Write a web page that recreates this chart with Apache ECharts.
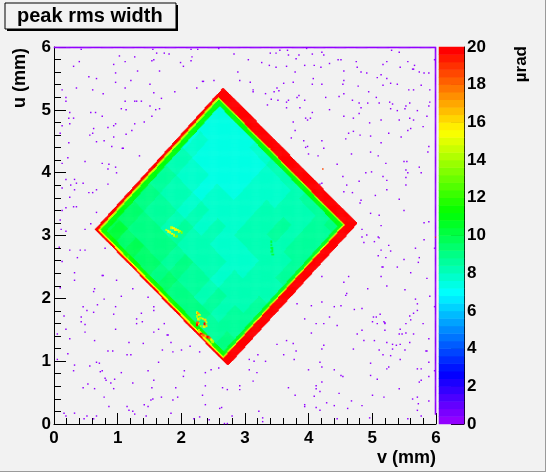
<!DOCTYPE html>
<html>
<head>
<meta charset="utf-8">
<script src="https://cdn.jsdelivr.net/npm/echarts@6/dist/echarts.min.js"></script>
<style>
  html, body { margin: 0; padding: 0; background: #f2f2f2; }
  #chart { width: 546px; height: 472px; }
</style>
</head>
<body>
<div id="chart"></div>
<script>
// histogram binning (mm)
const binWidth = 0.015;
const nBins = 400;

// outer corners of the crystal footprint, [v, u] in mm
const diamondTop = [2.66, 5.35];
const diamondRight = [4.76, 3.19];
const diamondBottom = [2.73, 0.93];
const diamondLeft = [0.65, 3.10];

// edge bands, [thickness mm, level µrad] from the edge inwards
const bandsUpperRight = [[0.15, 19.8], [0.02, 14.2], [0.07, 10.8]];
const bandsLowerRight = [[0.13, 19.8], [0.02, 15.0], [0.05, 10.4]];
const bandsLowerLeft = [[0.03, 19.8], [0.025, 15.4], [0.06, 11.4]];
const bandsUpperLeft = [[0.04, 19.8], [0.03, 14.6], [0.08, 11.0]];

// interior levels, rows from the lower-right edge to the upper-left edge,
// columns from the lower-left edge to the upper-right edge
const interiorLevels = [
  [9.2, 8.9, 8.7, 8.6, 8.8, 9.0, 9.0, 9.2],
  [8.9, 8.6, 8.4, 8.3, 8.5, 8.7, 8.7, 9.0],
  [8.6, 8.4, 8.2, 8.1, 8.3, 8.5, 8.4, 8.7],
  [8.7, 8.2, 8.0, 8.0, 8.1, 8.3, 8.2, 8.5],
  [8.9, 8.4, 8.1, 7.9, 8.2, 8.4, 8.2, 8.5],
  [8.8, 8.2, 7.9, 7.8, 8.0, 8.2, 8.0, 8.3],
  [9.1, 8.6, 8.2, 7.9, 8.0, 8.1, 7.9, 8.2],
  [8.9, 8.4, 8.0, 7.8, 7.8, 7.9, 7.7, 8.0],
  [9.3, 8.8, 8.3, 8.0, 7.9, 7.8, 7.7, 8.0],
  [9.1, 8.6, 8.1, 7.8, 7.7, 7.6, 7.5, 7.8],
  [9.5, 9.0, 8.5, 8.1, 7.8, 7.6, 7.5, 7.7],
  [9.3, 8.8, 8.3, 7.9, 7.6, 7.5, 7.4, 7.5],
  [9.7, 9.2, 8.7, 8.3, 7.9, 7.6, 7.4, 7.4],
  [9.5, 9.0, 8.5, 8.1, 7.7, 7.5, 7.3, 7.3],
  [10.1, 9.6, 9.1, 8.7, 8.2, 7.8, 7.5, 7.3],
  [9.9, 9.4, 8.9, 8.5, 8.0, 7.6, 7.3, 7.2]
];

// local features inside the footprint, [v, u, level]
const hotSpotRadius = 0.022;
const hotSpots = [
  [1.77, 3.09, 15.0], [1.80, 3.07, 15.6], [1.83, 3.05, 15.0], [1.86, 3.03, 15.4], [1.89, 3.01, 14.6], [1.93, 2.99, 13.6],
  [1.85, 3.13, 14.4], [1.88, 3.12, 15.4], [1.91, 3.10, 15.8], [1.94, 3.09, 15.0], [1.97, 3.07, 14.4], [2.01, 3.05, 13.4],
  [2.25, 1.78, 15.0], [2.27, 1.76, 17.0], [2.29, 1.74, 15.0], [2.25, 1.72, 14.0],
  [2.27, 1.67, 15.0], [2.30, 1.69, 14.0], [2.34, 1.68, 15.0], [2.38, 1.66, 16.0], [2.40, 1.62, 15.0], [2.40, 1.57, 16.0],
  [2.36, 1.55, 15.0], [2.31, 1.56, 14.0], [2.27, 1.60, 16.0],
  [2.37, 1.60, 19.8], [2.25, 1.58, 19.8], [2.26, 1.62, 18.0],
  [2.28, 1.49, 14.0], [2.30, 1.46, 16.0], [2.32, 1.44, 19.8], [2.35, 1.42, 18.0], [2.39, 1.40, 17.0], [2.42, 1.39, 19.8],
  [2.45, 1.37, 18.0], [2.48, 1.34, 15.0], [2.50, 1.31, 14.0],
  [3.39, 4.38, 14.0], [1.17, 2.66, 12.0],
  [3.42, 2.90, 10.2], [3.42, 2.85, 10.2], [3.43, 2.80, 10.2], [3.43, 2.75, 10.2], [3.44, 2.70, 10.2]
];

// single stray bins, [v, u, level]
const strayCells = [[5.995, 2.98, 19.8], [4.22, 4.05, 18.5]];

// empty-ish bins around the crystal, [v, u]
const noiseLevel = 0.2;
const rightColumnStart = 0.15;
const noiseDots = [
  [0.43,5.96],[1.03,5.85],[1.11,5.76],[1.27,5.84],[1.55,5.96],[1.57,5.80],[1.53,5.78],[1.61,5.90],[1.73,5.90],[1.80,5.88],
  [2.15,5.96],[2.26,5.96],[2.16,5.84],[2.15,5.78],[2.59,5.97],[2.83,5.89],[0.31,5.69],[0.40,5.76],[0.93,5.72],[0.96,5.59],
  [0.67,5.50],[0.55,5.52],[1.20,5.47],[1.31,5.61],[1.65,5.62],[1.99,5.75],[2.03,5.69],[2.33,5.45],[2.34,5.45],[2.24,5.34],
  [2.51,5.46],[2.89,5.60],[2.92,5.46],[0.13,5.32],[0.35,5.35],[0.96,5.43],[0.61,5.32],[0.77,5.26],[1.11,5.34],[1.51,5.41],
  [1.56,5.27],[1.90,5.28],[0.18,5.19],[0.19,5.14],[1.12,5.13],[1.26,5.14],[1.29,5.14],[1.37,5.13],[1.68,5.18],[1.50,5.06],
  [1.60,5.00],[1.66,5.02],[1.05,5.02],[1.13,5.00],[0.58,4.96],[0.65,4.96],[0.25,4.95],[0.23,4.87],[0.30,4.87],[0.76,4.89],
  [1.53,4.89],[0.13,4.75],[0.25,4.78],[0.84,4.72],[0.94,4.74],[0.96,4.77],[1.22,4.67],[1.27,4.78],[1.41,4.80],[0.56,4.59],
  [0.62,4.70],[0.61,4.62],[0.10,4.63],[1.13,4.61],[0.79,4.51],[0.94,4.57],[0.90,4.42],[1.07,4.38],[1.08,4.38],[0.23,4.48],
  [0.67,4.49],[1.34,4.26],[0.21,4.23],[0.48,4.17],[0.13,4.15],[0.76,4.14],[0.86,4.13],[0.85,4.05],[0.97,4.08],[0.98,3.99],
  [0.19,3.89],[0.32,3.89],[0.35,3.83],[0.46,3.83],[0.85,3.82],[0.26,3.80],[0.32,3.73],[0.54,3.68],[0.60,3.68],[0.67,3.73],
  [0.12,3.75],[0.25,3.60],[0.35,3.45],[0.30,3.45],[0.19,3.44],[0.12,3.39],[0.10,3.25],[0.57,3.19],[0.67,3.36],[0.49,3.09],
  [0.19,3.07],[0.11,3.09],
  [3.05,5.80],[3.40,5.90],[3.48,5.90],[3.55,5.95],[3.66,5.94],[3.68,5.87],[3.80,5.81],[3.85,5.87],[3.97,5.97],[4.06,5.88],
  [4.21,5.92],[4.24,5.87],[4.46,5.80],[4.51,5.79],[4.75,5.76],[4.76,5.67],[4.32,5.73],[4.33,5.73],[3.26,5.75],[3.38,5.71],
  [3.49,5.67],[3.65,5.69],[3.94,5.70],[4.08,5.70],[4.19,5.68],[3.78,5.60],[4.55,5.62],[4.82,5.60],[4.91,5.58],[5.14,5.55],
  [5.07,5.51],[5.22,5.49],[5.16,5.72],[5.23,5.76],[5.30,5.95],[5.42,5.92],[5.44,5.68],[5.55,5.76],[5.63,5.64],[5.64,5.64],
  [5.66,5.71],[5.73,5.60],[5.81,5.58],[5.89,5.59],[5.97,5.79],[3.08,5.44],[3.13,5.32],[3.12,5.28],[3.32,5.25],[3.45,5.28],
  [3.50,5.35],[3.53,5.30],[3.60,5.42],[3.76,5.43],[4.07,5.49],[4.05,5.41],[4.21,5.41],[4.55,5.47],[4.54,5.40],[4.78,5.37],
  [4.94,5.29],[5.16,5.39],[5.29,5.42],[5.39,5.40],[5.57,5.31],[5.64,5.32],[5.76,5.39],[5.90,5.31],[3.35,5.07],[3.41,5.16],
  [3.52,5.15],[3.68,5.15],[3.65,5.12],[3.81,5.20],[3.85,5.22],[3.93,5.15],[4.27,5.19],[4.48,5.21],[4.55,5.26],[4.68,5.15],
  [4.79,5.11],[4.82,5.03],[4.93,5.10],[5.06,5.20],[5.10,5.10],[5.27,5.12],[5.29,5.02],[5.31,5.09],[5.39,4.99],[5.51,5.02],
  [5.53,5.06],[5.59,5.10],[5.71,4.99],[5.88,5.06],[5.90,5.12],[3.65,5.03],[3.86,5.03],[3.95,4.87],[4.03,4.86],[3.98,4.83],
  [4.06,4.96],[4.32,5.00],[4.55,4.89],[4.70,4.86],[4.79,4.94],[4.96,4.79],[5.14,4.83],[5.42,4.83],[5.59,4.87],[5.64,4.84],
  [5.85,4.89],[3.75,4.81],[3.79,4.67],[3.72,4.55],[3.92,4.50],[3.98,4.42],[3.95,4.40],[4.21,4.50],[4.23,4.38],[4.58,4.54],
  [4.62,4.63],[4.70,4.65],[4.80,4.59],[4.97,4.58],[5.13,4.48],[5.26,4.62],[5.45,4.57],[5.55,4.67],[5.60,4.70],[5.80,4.73],
  [5.89,4.41],[5.87,4.33],[4.00,4.30],[4.14,4.27],[4.45,4.13],[4.67,4.29],[4.97,4.33],[5.09,4.27],[5.21,4.14],[5.50,4.18],
  [5.54,4.18],[5.52,4.04],[5.55,3.99],[5.73,4.08],[5.76,3.99],[4.89,3.99],[4.99,4.01],[4.54,3.94],[4.60,3.80],[4.79,3.86],
  [5.16,3.93],[5.23,3.88],[5.52,3.92],[5.53,3.80],[5.05,3.64],[5.22,3.72],[5.42,3.58],[5.50,3.39],[4.20,3.83],[4.18,3.81],
  [4.69,3.68],[4.55,3.69],[4.82,3.56],[4.80,3.51],[4.97,3.35],[5.10,3.32],[5.13,3.15],[4.83,3.10],[4.91,3.01],[5.81,3.20],
  [5.89,3.21],
  [0.08,2.81],[0.25,2.77],[0.41,2.77],[0.49,2.77],[0.80,2.79],[0.36,2.65],[0.13,2.59],[0.32,2.40],[0.32,2.29],[0.76,2.36],
  [0.77,2.36],[0.98,2.29],[0.64,2.15],[0.62,2.10],[0.10,2.17],[1.23,2.15],[1.06,2.03],[1.47,2.01],[0.79,1.99],[0.68,1.90],
  [1.56,1.87],[0.46,1.86],[0.52,1.80],[0.62,1.77],[0.96,1.87],[0.94,1.75],[1.37,1.76],[1.56,1.80],[0.16,1.71],[0.43,1.70],
  [0.42,1.62],[0.49,1.58],[1.29,1.67],[1.30,1.60],[1.39,1.62],[1.73,1.59],[0.96,1.50],[1.57,1.46],[1.64,1.50],[1.78,1.42],
  [1.79,1.42],[0.18,1.50],[0.49,1.46],[0.05,1.43],[0.25,1.36],[0.63,1.33],[1.18,1.30],[1.40,1.28],[1.83,1.30],[1.70,1.18],
  [1.86,1.14],[2.00,1.17],[2.14,1.23],[2.28,1.14],[0.21,1.12],[0.84,1.16],[0.92,1.16],[1.15,1.10],[1.21,1.10],[0.05,1.02],
  [0.67,0.98],[0.71,0.97],[0.32,0.93],[0.56,0.92],[1.64,0.98],[0.31,0.84],[0.72,0.83],[0.76,0.85],[1.05,0.81],[1.47,0.85],
  [2.04,0.84],[2.03,0.75],[2.38,0.82],[2.46,0.86],[2.59,0.89],[0.80,0.73],[0.81,0.69],[0.95,0.71],[0.53,0.63],[0.45,0.58],
  [0.63,0.56],[0.89,0.65],[1.23,0.65],[0.93,0.56],[1.53,0.57],[1.57,0.69],[1.91,0.58],[2.38,0.61],[2.64,0.58],[2.72,0.55],
  [2.92,0.61],[2.92,0.54],[0.79,0.42],[1.52,0.38],[1.55,0.39],[1.69,0.42],[1.86,0.38],[1.94,0.42],[2.33,0.45],[2.37,0.31],
  [1.41,0.31],[1.48,0.28],[0.86,0.28],[1.15,0.28],[1.18,0.22],[1.23,0.20],[2.60,0.25],[2.63,0.26],[0.15,0.17],[0.19,0.13],
  [0.32,0.17],[0.47,0.08],[0.52,0.13],[0.62,0.08],[0.67,0.12],[1.27,0.16],[1.44,0.13],[1.83,0.17],[2.20,0.08],[2.29,0.11],
  [2.43,0.06],[2.80,0.12],[2.67,0.01],[2.72,0.01],
  [4.84,2.98],[5.09,2.98],[5.10,2.96],[4.86,2.88],[5.03,2.90],[5.81,2.93],[5.97,2.79],[5.68,2.80],[5.26,2.84],[5.29,2.75],
  [5.13,2.76],[5.21,2.64],[5.09,2.68],[5.50,2.62],[5.15,2.50],[5.17,2.49],[5.39,2.49],[5.60,2.40],[5.72,2.57],[5.74,2.64],
  [4.20,2.35],[4.55,2.26],[4.63,2.34],[5.14,2.35],[5.22,2.19],[5.86,2.32],[4.59,2.07],[4.58,2.05],[4.92,2.15],[5.51,2.14],
  [5.68,1.98],[5.70,1.91],[5.71,1.80],[5.65,1.76],[5.90,2.03],[5.97,1.87],[3.82,1.91],[4.04,1.88],[4.20,1.94],[4.40,1.87],
  [4.50,1.88],[4.71,1.82],[4.83,1.84],[5.01,1.70],[5.06,1.70],[5.12,1.75],[5.00,1.63],[5.08,1.60],[5.18,1.62],[5.20,1.60],
  [5.19,1.61],[5.60,1.66],[5.59,1.71],[5.52,1.59],[5.80,1.60],[3.94,1.67],[4.12,1.59],[4.24,1.59],[4.32,1.70],[4.45,1.57],
  [4.76,1.43],[4.83,1.49],[4.04,1.45],[5.19,1.49],[5.44,1.50],[5.47,1.43],[5.42,1.43],[5.53,1.44],[5.65,1.43],[3.50,1.27],
  [3.65,1.32],[3.76,1.28],[4.23,1.25],[4.20,1.19],[4.70,1.19],[4.87,1.32],[5.03,1.32],[5.23,1.30],[5.31,1.27],[5.37,1.25],
  [5.43,1.26],[5.31,1.19],[5.58,1.30],[5.89,1.35],[3.20,1.10],[3.07,1.02],[3.14,0.99],[3.32,1.00],[3.61,1.10],[3.80,1.16],
  [3.77,1.02],[4.18,0.98],[4.21,0.90],[4.40,0.86],[4.97,0.97],[5.10,1.17],[5.17,1.10],[5.29,1.09],[5.51,1.17],[5.43,1.02],
  [5.84,1.16],[5.85,1.16],[5.89,0.98],[5.26,0.91],[5.23,0.88],[5.71,0.88],[5.76,0.88],[5.97,0.85],[3.06,0.86],[3.18,0.82],
  [3.12,0.68],[3.99,0.86],[4.20,0.66],[4.12,0.61],[4.11,0.56],[4.18,0.52],[4.50,0.77],[4.53,0.75],[4.97,0.77],[5.08,0.71],
  [5.42,0.56],[5.73,0.66],[5.76,0.69],[5.89,0.75],[3.68,0.58],[3.78,0.45],[4.08,0.44],[4.28,0.34],[4.48,0.48],[4.67,0.37],
  [4.84,0.29],[5.00,0.45],[5.18,0.42],[5.63,0.40],[5.71,0.42],[5.72,0.32],[5.88,0.37],[3.93,0.30],[3.94,0.28],[4.12,0.26],
  [4.18,0.21],[4.40,0.29],[4.61,0.24],[5.71,0.22],[3.27,0.09],[3.27,0.03],[3.21,0.20],[4.45,0.08],[4.95,0.09],[5.56,0.08],
  [5.76,0.13]
];

// ROOT "pretty palette": 50 colours, hue 280 -> 0
const zMax = 20;
const nColors = 50;
function hueToHex(h) {
  const f = n => {
    const k = (n + h / 30) % 12;
    const c = 0.5 - 0.5 * Math.max(-1, Math.min(k - 3, 9 - k, 1));
    return Math.round(c * 255).toString(16).padStart(2, '0');
  };
  return '#' + f(0) + f(8) + f(4);
}
const step = zMax / nColors;
const pieces = [];
for (let i = 0; i < nColors; i++) {
  const hue = 280 - (i + 1) * (280 / nColors);
  const piece = { gte: i * step, color: hueToHex(hue) };
  if (i < nColors - 1) piece.lt = (i + 1) * step; else piece.lte = zMax;
  pieces.push(piece);
}

// ---- build the bins ----
const cells = new Map();
const binOf = x => Math.min(nBins - 1, Math.max(0, Math.floor(x / binWidth)));
const put = (v, u, z) => cells.set(binOf(v) * nBins + binOf(u), z);

for (let i = 0; i < nBins; i++) cells.set(i * nBins + nBins - 1, noiseLevel);
for (let j = binOf(rightColumnStart); j < nBins; j++) cells.set((nBins - 1) * nBins + j, noiseLevel);
noiseDots.forEach(d => put(d[0], d[1], noiseLevel));

const outline = [diamondTop, diamondRight, diamondBottom, diamondLeft];
const outlineBands = [bandsUpperRight, bandsLowerRight, bandsLowerLeft, bandsUpperLeft];
function edgeDistance(p, a, b) {
  const ex = b[0] - a[0], ey = b[1] - a[1];
  return -(ex * (p[1] - a[1]) - ey * (p[0] - a[0])) / Math.hypot(ex, ey);
}
const e1 = [diamondRight[0] - diamondBottom[0], diamondRight[1] - diamondBottom[1]];
const e2 = [diamondLeft[0] - diamondBottom[0], diamondLeft[1] - diamondBottom[1]];
const det = e1[0] * e2[1] - e1[1] * e2[0];
const nRows = interiorLevels.length;
const nCols = interiorLevels[0].length;

for (let i = binOf(diamondLeft[0]); i <= binOf(diamondRight[0]); i++) {
  for (let j = binOf(diamondBottom[1]); j <= binOf(diamondTop[1]); j++) {
    const p = [(i + 0.5) * binWidth, (j + 0.5) * binWidth];
    const dist = outline.map((a, k) => edgeDistance(p, a, outline[(k + 1) % 4]));
    if (Math.min(...dist) < 0) continue;
    const dx = p[0] - diamondBottom[0], dy = p[1] - diamondBottom[1];
    const ca = (dx * e2[1] - dy * e2[0]) / det;
    const cb = (e1[0] * dy - e1[1] * dx) / det;
    const col = Math.min(nCols - 1, Math.max(0, Math.floor(ca * nCols)));
    const row = Math.min(nRows - 1, Math.max(0, Math.floor(cb * nRows)));
    let z = interiorLevels[row][col];
    let bandZ = -1;
    dist.forEach((d, k) => {
      let cum = 0;
      for (const [t, level] of outlineBands[k]) {
        cum += t;
        if (d < cum) { bandZ = Math.max(bandZ, level); break; }
      }
    });
    if (bandZ >= 0) z = Math.max(z, bandZ);
    cells.set(i * nBins + j, z);
  }
}

hotSpots.forEach(([v, u, z]) => {
  const ci = binOf(v), cj = binOf(u);
  for (let di = -2; di <= 2; di++) {
    for (let dj = -2; dj <= 2; dj++) {
      const cv = (ci + di + 0.5) * binWidth, cu = (cj + dj + 0.5) * binWidth;
      if (Math.hypot(cv - v, cu - u) <= hotSpotRadius) cells.set((ci + di) * nBins + cj + dj, z);
    }
  }
});
strayCells.forEach(([v, u, z]) => put(v, u, z));

const histData = [];
cells.forEach((z, k) => histData.push([Math.floor(k / nBins), k % nBins, z]));
const binNames = Array.from({ length: nBins }, (_, i) => i);
const paletteData = pieces.map((p, i) => [0, i, (i + 0.5) * step]);
const paletteNames = pieces.map((p, i) => i);

// ---- chart ----
const font = "'Liberation Sans', Arial, sans-serif";
const labelStyle = { color: '#000', fontFamily: font, fontWeight: 'bold', fontSize: 17 };
const chart = echarts.init(document.getElementById('chart'));
chart.setOption({
  backgroundColor: '#f2f2f2',
  animation: false,
  grid: [
    { left: 54, top: 47, width: 382, height: 377 },
    { left: 439, top: 47, width: 25, height: 377 }
  ],
  visualMap: { type: 'piecewise', show: false, dimension: 2, seriesIndex: [0, 1], pieces: pieces },
  xAxis: [
    { type: 'category', gridIndex: 0, data: binNames, show: false },
    {
      type: 'value', gridIndex: 0, position: 'bottom', min: 0, max: 6, interval: 1,
      axisLine: { lineStyle: { color: '#000', width: 1 } },
      axisTick: { inside: true, length: 11, lineStyle: { color: '#000' } },
      minorTick: { show: true, splitNumber: 5, length: 6, lineStyle: { color: '#000' } },
      axisLabel: Object.assign({ margin: 6 }, labelStyle),
      splitLine: { show: false }
    },
    { type: 'category', gridIndex: 1, data: [0], show: false }
  ],
  yAxis: [
    { type: 'category', gridIndex: 0, data: binNames, show: false },
    {
      type: 'value', gridIndex: 0, position: 'left', min: 0, max: 6, interval: 1,
      axisLine: { lineStyle: { color: '#000', width: 1 } },
      axisTick: { inside: true, length: 12, lineStyle: { color: '#000' } },
      minorTick: { show: true, splitNumber: 5, length: 7, lineStyle: { color: '#000' } },
      axisLabel: Object.assign({ margin: 3 }, labelStyle),
      splitLine: { show: false }
    },
    { type: 'category', gridIndex: 1, data: paletteNames, show: false },
    {
      type: 'value', gridIndex: 1, position: 'right', min: 0, max: 20, interval: 2,
      axisLine: { show: true, lineStyle: { color: '#000', width: 1 } },
      axisTick: { show: true, inside: true, length: 13, lineStyle: { color: '#000' } },
      axisLabel: Object.assign({ margin: 3 }, labelStyle),
      splitLine: { show: false }
    }
  ],
  series: [
    {
      type: 'heatmap', xAxisIndex: 0, yAxisIndex: 0, data: histData,
      progressive: 0, emphasis: { disabled: true }, silent: true
    },
    {
      type: 'heatmap', xAxisIndex: 2, yAxisIndex: 2, data: paletteData,
      progressive: 0, emphasis: { disabled: true }, silent: true
    }
  ],
  graphic: [
    { type: 'rect', shape: { x: 7, y: 5, width: 171, height: 26 }, style: { fill: '#000' } },
    { type: 'rect', shape: { x: 5, y: 3, width: 171, height: 26 }, style: { fill: '#f2f2f2', stroke: '#000', lineWidth: 1 } },
    {
      type: 'text', x: 17, y: 16,
      style: { text: 'peak rms width', font: 'bold 20px ' + font, fill: '#000', textAlign: 'left', textVerticalAlign: 'middle' }
    },
    {
      type: 'text', x: 20, y: 48, rotation: Math.PI / 2,
      style: { text: 'u (mm)', font: 'bold 18px ' + font, fill: '#000', textAlign: 'right', textVerticalAlign: 'middle' }
    },
    {
      type: 'text', x: 436, y: 458,
      style: { text: 'v (mm)', font: 'bold 18px ' + font, fill: '#000', textAlign: 'right', textVerticalAlign: 'middle' }
    },
    {
      type: 'text', x: 521, y: 46, rotation: Math.PI / 2,
      style: { text: 'µrad', font: 'bold 17px ' + font, fill: '#000', textAlign: 'right', textVerticalAlign: 'middle' }
    },
    { type: 'line', shape: { x1: 545.5, y1: 0, x2: 545.5, y2: 472 }, style: { stroke: '#9a9a9a', lineWidth: 1 } },
    { type: 'line', shape: { x1: 0, y1: 471.5, x2: 546, y2: 471.5 }, style: { stroke: '#9a9a9a', lineWidth: 1 } }
  ]
});
</script>
</body>
</html>
